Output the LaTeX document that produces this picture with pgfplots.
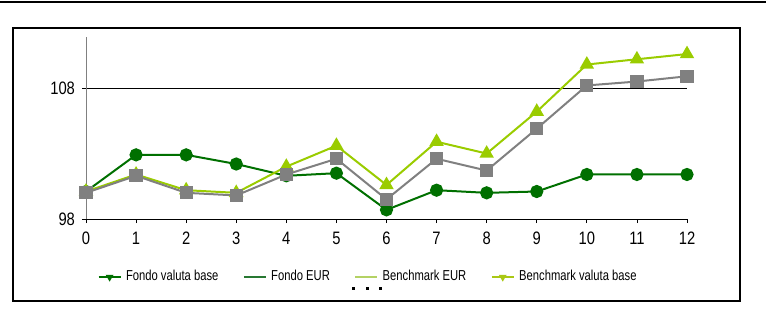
\documentclass[border=0pt]{standalone}
\usepackage{fontspec}
\setmainfont{Liberation Sans}[FakeStretch=0.82]
\newfontfamily\legfont{Liberation Sans}[FakeStretch=0.78]
\usepackage{pgfplots}
\pgfplotsset{compat=1.18}
\definecolor{dkgreen}{RGB}{0,112,0}
\definecolor{fgreen}{RGB}{40,120,50}
\definecolor{ltgreen}{RGB}{154,204,0}
\definecolor{bgreen}{RGB}{180,210,100}
\definecolor{ygreen}{RGB}{170,200,20}
\definecolor{mgray}{RGB}{128,128,128}
\begin{document}
\begin{tikzpicture}
\useasboundingbox (-43pt,-55pt) rectangle (340pt,109.5pt);
\draw[line width=1pt] (-43pt,108.5pt) -- (340pt,108.5pt);
\draw[line width=0.6pt] (-36.5pt,-41pt) rectangle (327pt,95.5pt);
\begin{axis}[
  at={(0pt,0pt)}, anchor=origin,
  scale only axis, width=300.5pt, height=91pt,
  xmin=0, xmax=12, ymin=98, ymax=111.9,
  axis x line*=bottom, axis y line*=left,
  axis line style={-},
  y axis line style={draw=mgray},
  xtick={0,...,12}, ytick={98,108},
  tick align=outside, major tick length=2pt,
  tick style={black, line width=0.4pt},
  ymajorgrids, grid style={black, line width=0.5pt},
  /pgf/number format/assume math mode=true,
  ticklabel style={font=\fontsize{9}{10}\selectfont},
  xticklabel style={yshift=-1pt},
  clip=false,
  legend columns=4,
  legend image code/.code={\draw[mark repeat=2,mark phase=2,#1] plot coordinates {(0pt,0pt)(5.5pt,0pt)(11pt,0pt)};},
  legend style={at={(0.018,-0.319)}, anchor=west, draw=none, fill=none, inner sep=0pt,
    font=\legfont\fontsize{7.2}{8}\selectfont,
    /tikz/every even column/.append style={column sep=10pt}},
  legend cell align=left,
]
\addlegendimage{dkgreen, line width=1.4pt, mark=triangle*, mark size=0.9pt, mark options={rotate=180}}
\addlegendentry{Fondo valuta base}
\addlegendimage{fgreen, line width=1.4pt}
\addlegendentry{Fondo EUR}
\addlegendimage{bgreen, line width=1.4pt}
\addlegendentry{Benchmark EUR}
\addlegendimage{ygreen, line width=1.4pt, mark=triangle*, mark size=0.9pt, mark options={rotate=180}}
\addlegendentry{Benchmark valuta base}
\addplot[dkgreen, line width=1pt, mark=*, mark size=2.8pt, mark options={fill=dkgreen}, forget plot]
 coordinates {(0,100.1)(1,102.9)(2,102.9)(3,102.2)(4,101.3)(5,101.5)(6,98.7)(7,100.2)(8,100.0)(9,100.1)(10,101.4)(11,101.4)(12,101.4)};
\addplot[ltgreen, line width=1pt, mark=triangle*, mark size=3.2pt, mark options={fill=ltgreen}, forget plot]
 coordinates {(0,100.1)(1,101.4)(2,100.2)(3,100.0)(4,102.0)(5,103.6)(6,100.6)(7,103.9)(8,103.0)(9,106.2)(10,109.8)(11,110.2)(12,110.6)};
\addplot[mgray, line width=1pt, mark=square*, mark size=2.8pt, mark options={fill=mgray}, forget plot]
 coordinates {(0,100.0)(1,101.3)(2,100.0)(3,99.8)(4,101.4)(5,102.6)(6,99.5)(7,102.6)(8,101.7)(9,104.9)(10,108.2)(11,108.5)(12,108.9)};
\end{axis}
\fill (132.75pt,-35.25pt) rectangle ++(1.5pt,1.5pt);
\fill (139.75pt,-35.25pt) rectangle ++(1.5pt,1.5pt);
\fill (146.25pt,-35.25pt) rectangle ++(1.5pt,1.5pt);
\end{tikzpicture}
\end{document}
